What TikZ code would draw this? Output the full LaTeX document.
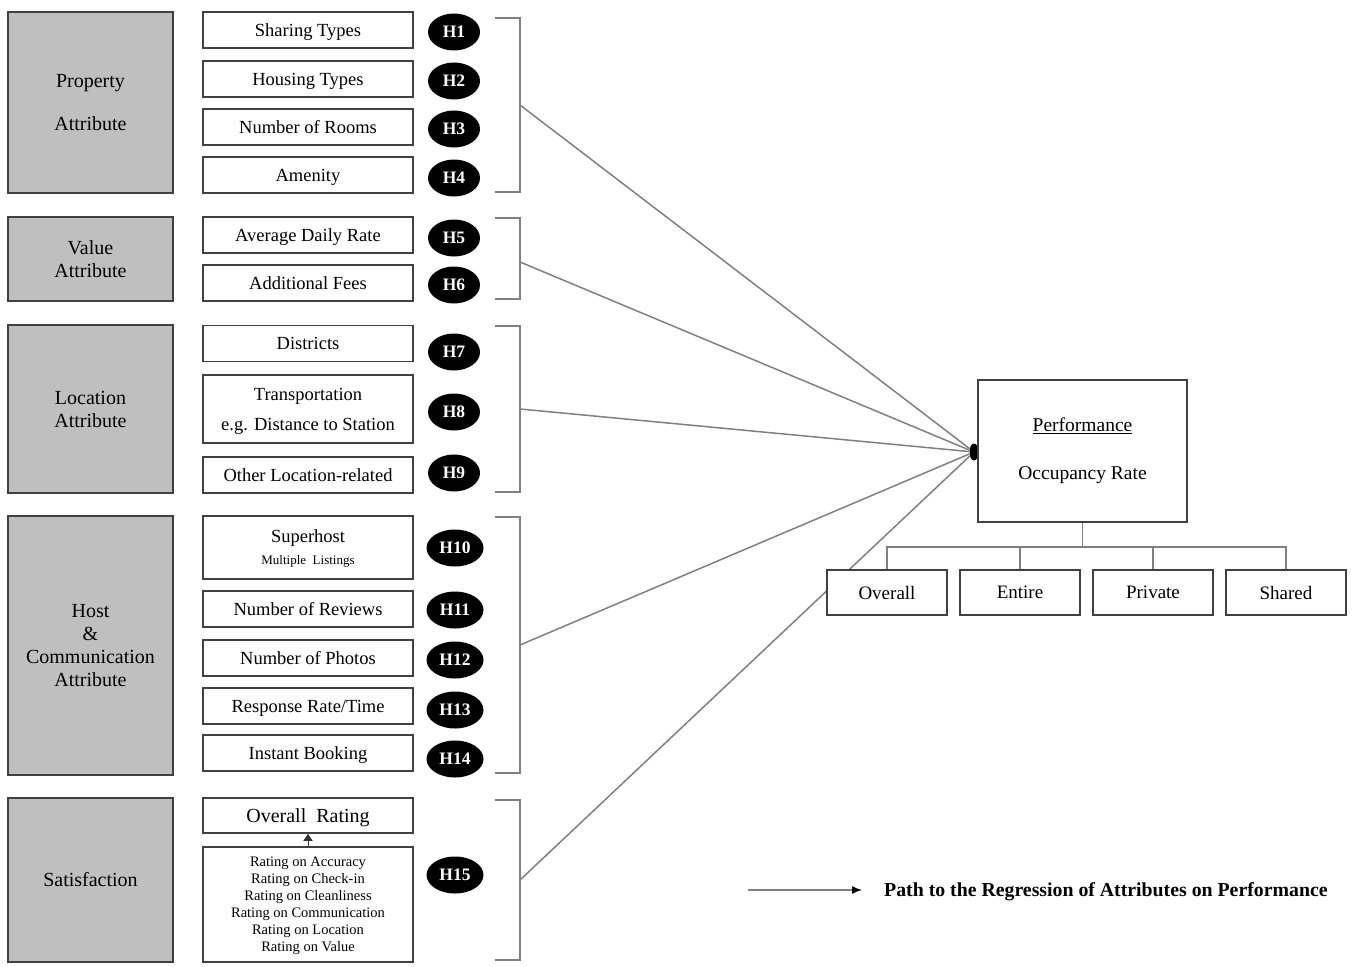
\documentclass[tikz,border=0pt]{standalone}
\usepackage{fontspec}
\setmainfont{Liberation Serif}
\usetikzlibrary{shapes.geometric,arrows.meta}

\begin{document}
\begin{tikzpicture}[x=1pt,y=-1pt,
    attr/.style={draw=black!75,line width=2pt,fill=gray!50,minimum width=165pt,inner sep=0pt,align=center,font=\fontsize{20}{23}\selectfont},
    item/.style={draw=black!75,line width=1.6pt,fill=white,minimum width=210pt,minimum height=36pt,inner sep=0pt,text depth=0pt,align=center,font=\fontsize{18.5}{22}\selectfont},
    hyp/.style={ellipse,fill=black,text=white,minimum width=52pt,minimum height=37pt,inner sep=0pt,font=\fontsize{17.5}{17}\selectfont\bfseries},
    brack/.style={draw=gray,line width=1.5pt},
    link/.style={draw=gray,line width=1.5pt},
    outc/.style={draw=black!75,line width=1.6pt,fill=white,minimum width=120pt,minimum height=45pt,inner sep=0pt,text depth=0pt,font=\fontsize{19}{22}\selectfont}]
\useasboundingbox (0,0) rectangle (1367,966);

% attribute groups
\node[attr,minimum height=181pt] (prop) at (90.5,102.5) {Property\\[20pt]Attribute};
\node[attr,minimum height=84pt] (val) at (90.5,259) {Value\\Attribute};
\node[attr,minimum height=168pt] (loc) at (90.5,409) {Location\\Attribute};
\node[attr,minimum height=259pt] (host) at (90.5,645.5) {Host\\\&\\Communication\\Attribute};
\node[attr,minimum height=164pt] (sat) at (90.5,880) {Satisfaction};

% variables
\node[item] (st) at (308,30) {Sharing Types};
\node[item] (ht) at (308,79) {Housing Types};
\node[item] (nr) at (308,127) {Number of Rooms};
\node[item] (am) at (308,175) {Amenity};
\node[item] (adr) at (308,235) {Average Daily Rate};
\node[item] (af) at (308,283) {Additional Fees};
\node[item] (di) at (308,343.5) {Districts};
\node[item,minimum height=68pt] (tr) at (308,409) {Transportation\\[8pt]e.g. Distance to Station};
\node[item] (ol) at (308,475) {Other Location-related};
\node[item,minimum height=63pt] (sh) at (308,547.5) {Superhost\\[0pt]{\fontsize{13}{13}\selectfont Multiple\ \ Listings}};
\node[item] (rv) at (308,609) {Number of Reviews};
\node[item] (ph) at (308,658) {Number of Photos};
\node[item] (rr) at (308,706) {Response Rate/Time};
\node[item] (ib) at (308,753) {Instant Booking};
\node[item,minimum height=35pt,font=\fontsize{20}{22}\selectfont] (or) at (308,815.5) {Overall\ \ Rating};
\node[item,minimum height=115pt,font=\fontsize{14.5}{17}\selectfont] (rat) at (308,904.5) {Rating on Accuracy\\Rating on Check-in\\Rating on Cleanliness\\Rating on Communication\\Rating on Location\\Rating on Value};
\draw[black!80,line width=1pt,-{Triangle[length=7pt,width=9pt]}] (rat.north) -- (or.south);

% hypotheses
\foreach \h/\y in {1/32,2/81,3/129,4/178,5/238,6/285,7/352,8/412,9/473}
  \node[hyp] (h\h) at (454,\y) {H\h};
\foreach \h/\y in {10/548,11/610,12/660,13/710,14/759,15/875}
  \node[hyp,minimum width=57pt] (h\h) at (455,\y) {H\h};

% brackets
\foreach \t/\b/\m/\n in {18/192/105/1,218/299/262/2,326/492/409/3,517/773/645/4,800/960/880/5}{
  \draw[brack] (495,\t) -| (520,\b) -- (495,\b);
  \coordinate (k\n) at (520,\m);
}

% paths to performance
\node[ellipse,fill=black,minimum width=9pt,minimum height=17pt,inner sep=0pt] (hub) at (974,452) {};
\foreach \n in {1,...,5}
  \draw[link] (k\n) -- (hub);

\node[draw=black!75,line width=1.6pt,minimum width=209pt,minimum height=142pt,inner sep=0pt,align=center,font=\fontsize{19.5}{22}\selectfont] (perf) at (1082.5,451) {\underline{Performance}\\[26pt]Occupancy Rate};

\node[outc] (ov) at (887,592.5) {Overall};
\node[outc] (ent) at (1020,592.5) {Entire};
\node[outc] (pri) at (1153,592.5) {Private};
\node[outc] (shd) at (1286,592.5) {Shared};
\draw[link] (perf.south) -- (1082.5,548);
\draw[link] (ov.north) -- ++(0,-22) -| (shd.north);
\draw[link] (ent.north) -- ++(0,-22);
\draw[link] (pri.north) -- ++(0,-22);

% legend
\coordinate (la) at (748,890);
\coordinate (lb) at (862,890);
\draw[link,-{Latex[color=black,length=10pt,width=8pt]}] (la) -- (lb);
\node[anchor=west,inner sep=0pt,font=\fontsize{19.8}{22}\selectfont\bfseries] (legend) at (884,892) {Path to the Regression of Attributes on Performance};
\end{tikzpicture}
\end{document}
